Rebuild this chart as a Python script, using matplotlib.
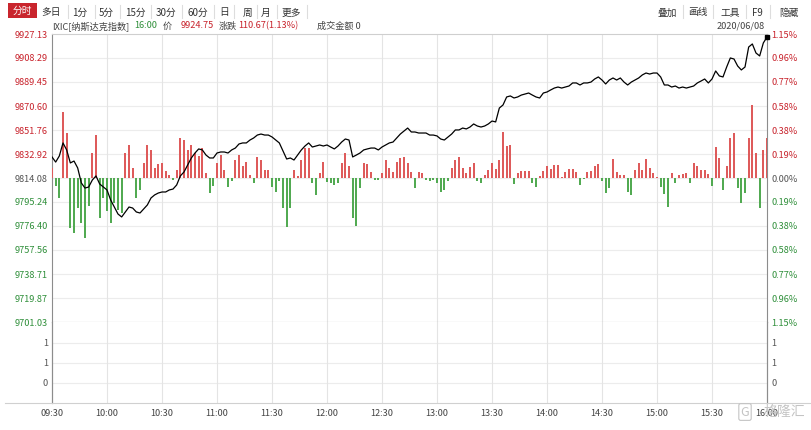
import matplotlib
matplotlib.use("Agg")
import matplotlib.pyplot as plt
import numpy as np
from matplotlib.lines import Line2D
from matplotlib.patches import Rectangle

plt.rcParams['font.family'] = ['Noto Sans CJK SC', 'DejaVu Sans']

# ---- data (one point every 2 min) ----
prev_close = 9814.08
last_price = 9924.75

price = [
    9830.6, 9826.6, 9831.4, 9841.6, 9836.1, 9825.9, 9827.4, 9822.0, 9810.2, 9806.2,
    9807.0, 9812.5, 9815.7, 9809.4, 9807.0, 9804.7, 9796.8, 9791.3, 9785.8, 9783.5,
    9787.4, 9791.3, 9790.5, 9787.4, 9786.6, 9789.8, 9792.9, 9798.4, 9800.8, 9802.3,
    9803.1, 9803.1, 9804.7, 9805.4, 9808.6, 9815.7, 9818.8, 9824.3, 9829.8, 9833.7,
    9836.9, 9836.1, 9832.1, 9829.8, 9829.8, 9833.7, 9834.5, 9834.5, 9833.7, 9836.1,
    9837.6, 9840.8, 9841.6, 9841.6, 9843.9, 9845.5, 9847.8, 9848.6, 9847.8, 9847.8,
    9846.3, 9843.9, 9841.6, 9835.3, 9829.0, 9829.8, 9828.2, 9832.1, 9836.1, 9839.2,
    9841.6, 9838.4, 9839.2, 9840.0, 9839.2, 9840.0, 9838.4, 9836.9, 9839.2, 9842.3,
    9844.7, 9843.9, 9830.6, 9832.1, 9833.7, 9836.1, 9836.9, 9837.6, 9837.6, 9836.1,
    9838.4, 9840.0, 9841.6, 9842.3, 9845.5, 9848.6, 9851.0, 9853.3, 9850.2, 9850.2,
    9849.4, 9849.4, 9849.4, 9847.8, 9847.8, 9847.1, 9844.7, 9843.9, 9846.3, 9848.6,
    9851.8, 9851.8, 9853.3, 9852.6, 9854.1, 9856.5, 9854.9, 9854.1, 9854.9, 9856.5,
    9858.8, 9858.1, 9869.0, 9871.4, 9877.7, 9878.5, 9876.9, 9877.7, 9879.2, 9880.0,
    9880.8, 9879.2, 9877.7, 9876.9, 9880.8, 9881.6, 9883.2, 9884.7, 9885.5, 9884.7,
    9885.5, 9886.3, 9888.7, 9888.7, 9887.1, 9888.7, 9888.7, 9889.4, 9891.8, 9893.4,
    9891.0, 9887.9, 9891.0, 9892.6, 9891.0, 9892.6, 9889.4, 9887.1, 9889.4, 9891.0,
    9892.6, 9895.0, 9896.5, 9895.7, 9896.5, 9896.5, 9893.4, 9887.1, 9887.1, 9885.5,
    9886.3, 9884.7, 9885.5, 9884.7, 9885.5, 9886.3, 9888.7, 9890.2, 9891.8, 9888.7,
    9891.8, 9898.1, 9894.2, 9893.4, 9901.2, 9908.3, 9907.5, 9902.0, 9898.9, 9901.2,
    9916.9, 9919.3, 9912.2, 9909.9, 9920.1, 9924.75,
]

# buy/sell strength bars (own scale, 0 = previous close line)
strength = [
    10, -8, -20, 66, 45, -50, -55, -30, -45, -60,
    -28, 25, 43, -40, -20, -33, -45, -25, -32, -35,
    25, 33, 10, -20, -12, 15, 33, 28, 10, 14,
    15, 7, 3, -2, 8, 40, 38, 28, 33, 25,
    22, 30, 5, -15, -8, 15, 23, 8, -9, -3,
    18, 23, 12, 16, 3, -5, 21, 18, 8, 8,
    -9, -14, -3, -30, -49, -30, 8, 2, 18, 30,
    30, -5, -17, 5, 16, -4, -5, -7, -5, 15,
    25, 12, -40, -48, -10, 15, 14, 6, -2, -2,
    5, 18, 10, 6, 16, 20, 21, 15, 6, -10,
    6, 5, -2, -3, -2, -5, -14, -12, -3, 10,
    18, 21, 10, 5, 11, 15, -3, -5, 3, 8,
    15, 9, 18, 46, 32, 33, -6, 5, 7, 7,
    7, -5, -9, 2, 7, 12, 9, 13, 13, 1,
    6, 9, 9, 6, -7, -1, 6, 7, 12, 14,
    -3, -15, -10, 19, 6, 3, 3, -14, -17, 8,
    15, 8, 19, 10, 5, 1, -9, -16, -29, 5,
    -5, 3, 4, 5, -5, 15, 12, 8, 8, 4,
    -8, 31, 20, -12, 12, 40, 45, -10, -25, -15,
    40, 73, 25, -30, 28, 40,
]

minutes = np.arange(0, 391, 2)
assert len(price) == len(minutes) and len(strength) == len(minutes)

price_ticks = [9701.03, 9719.87, 9738.71, 9757.56, 9776.40, 9795.24, 9814.08,
               9832.92, 9851.76, 9870.60, 9889.45, 9908.29, 9927.13]
pct_labels = ["1.15%", "0.96%", "0.77%", "0.58%", "0.38%", "0.19%", "0.00%",
              "0.19%", "0.38%", "0.58%", "0.77%", "0.96%", "1.15%"]
time_ticks = list(range(0, 391, 30))
time_labels = ["09:30", "10:00", "10:30", "11:00", "11:30", "12:00", "12:30",
               "13:00", "13:30", "14:00", "14:30", "15:00", "15:30", "16:00"]
vol_ticks = [0, 0.5, 1.0]
vol_labels = ["0", "1", "1"]

RED = '#c8232c'
GREEN = '#2f8f3a'
GRAY = '#555555'
BAR_RED = '#de5b5b'
BAR_GREEN = '#52aa52'
GRID = '#ececec'
FS = 6.6

W, H = 811, 430
fig = plt.figure(figsize=(W / 100, H / 100), dpi=100)


def fx(px):
    return px / W


def fy(py):
    return 1 - py / H


left, right = 52, 767
top, sep, bottom = 34, 322, 403
ax = fig.add_axes([fx(left), fy(sep), fx(right - left), (sep - top) / H])
axv = fig.add_axes([fx(left), fy(bottom), fx(right - left), (bottom - sep) / H])

# ---- main panel ----
ax.set_xlim(0, 390)
ax.set_ylim(price_ticks[0], price_ticks[-1])
for p in price_ticks[1:-1]:
    ax.axhline(p, color=GRID, lw=0.8, zorder=0)
for t in time_ticks[1:-1]:
    ax.axvline(t, color='#e4e4e4', lw=0.8, zorder=0)

axb = ax.twinx()
axb.set_ylim(-144, 144)
axb.set_xlim(0, 390)
cols = [BAR_RED if s > 0 else BAR_GREEN for s in strength]
axb.bar(minutes, strength, width=1.05, color=cols, linewidth=0, zorder=1)
axb.set_yticks([])
for s in axb.spines.values():
    s.set_visible(False)

axl = ax.twinx()
axl.set_ylim(price_ticks[0], price_ticks[-1])
axl.plot(minutes, price, color='black', lw=0.9, zorder=3)
axl.plot([minutes[-1]], [last_price], marker='s', ms=2.5, color='black', clip_on=False)
axl.set_yticks(price_ticks)
axl.set_yticklabels(pct_labels, fontsize=FS)
axl.tick_params(axis='y', length=0, pad=3)
for lab, p in zip(axl.get_yticklabels(), price_ticks):
    lab.set_color(RED if p > prev_close + 0.01 else (GREEN if p < prev_close - 0.01 else GRAY))
for s in axl.spines.values():
    s.set_visible(False)

ax.set_yticks(price_ticks)
ax.set_yticklabels(["%.2f" % p for p in price_ticks], fontsize=FS)
ax.tick_params(axis='y', length=0, pad=3)
for lab, p in zip(ax.get_yticklabels(), price_ticks):
    lab.set_color(RED if p > prev_close + 0.01 else (GREEN if p < prev_close - 0.01 else GRAY))
ax.set_xticks([])
ax.spines['left'].set_color('#8c8c8c')
ax.spines['right'].set_color('#8c8c8c')
ax.spines['top'].set_color('#cfcfcf')
ax.spines['bottom'].set_color('#9a9a9a')
for s in ax.spines.values():
    s.set_linewidth(0.8)

# ---- volume panel (empty) ----
axv.set_xlim(0, 390)
axv.set_ylim(-0.5, 1.525)
for v in vol_ticks:
    axv.axhline(v, color=GRID, lw=0.8, zorder=0)
for t in time_ticks[1:-1]:
    axv.axvline(t, color='#e4e4e4', lw=0.8, zorder=0)
axv.set_yticks(vol_ticks)
axv.set_yticklabels(vol_labels, fontsize=FS, color=GRAY)
axv.tick_params(axis='y', length=0, pad=3)
axv.set_xticks(time_ticks)
axv.set_xticklabels(time_labels, fontsize=FS, color='#444444')
axv.tick_params(axis='x', length=0, pad=4)
axvr = axv.twinx()
axvr.set_ylim(-0.5, 1.525)
axvr.set_yticks(vol_ticks)
axvr.set_yticklabels(vol_labels, fontsize=FS, color=GRAY)
axvr.tick_params(axis='y', length=0, pad=3)
for a in (axv, axvr):
    a.spines['top'].set_visible(False)
    a.spines['bottom'].set_visible(False)
    a.spines['left'].set_color('#8c8c8c')
    a.spines['right'].set_color('#8c8c8c')
    a.spines['left'].set_linewidth(0.8)
    a.spines['right'].set_linewidth(0.8)
fig.add_artist(Line2D([fx(5), 1], [fy(bottom), fy(bottom)], color='#d0d0d0', lw=0.8))

# ---- header toolbar ----
fig.add_artist(Rectangle((fx(8), fy(18)), fx(29), 15 / H, color='#c9252d', lw=0))
fig.text(fx(22.5), fy(10.5), "分时", color='white', fontsize=FS + 0.4, ha='center', va='center')
tabs = [("多日", 51), ("1分", 80), ("5分", 106), ("15分", 135), ("30分", 166), ("60分", 198),
        ("日", 224), ("周", 248), ("月", 266), ("更多", 291)]
for name, cx in tabs:
    fig.text(fx(cx), fy(12.5), name, color='#333333', fontsize=FS + 0.4, ha='center', va='center')
for sx in [68, 95, 120, 151, 182, 214, 234, 257, 277, 307]:
    fig.add_artist(Line2D([fx(sx), fx(sx)], [fy(5), fy(18)], color='#dddddd', lw=0.8))
tools = [("叠加", 667), ("画线", 698), ("工具", 730), ("F9", 757), ("隐藏", 789)]
for name, cx in tools:
    fig.text(fx(cx), fy(12.5), name, color='#333333', fontsize=FS + 0.4, ha='center', va='center')
for sx in [683, 713, 746, 770]:
    fig.add_artist(Line2D([fx(sx), fx(sx)], [fy(5), fy(18)], color='#dddddd', lw=0.8))

# ---- info line ----
info = [("IXIC[纳斯达克指数]", 52, '#444444'), ("16:00", 134, GREEN), ("价", 163, '#444444'),
        ("9924.75", 181, RED), ("涨跌", 219, '#444444'), ("110.67(1.13%)", 238, RED),
        ("成交金额 0", 317, '#444444')]
for txt, x0, c in info:
    fig.text(fx(x0), fy(26), txt, color=c, fontsize=FS, ha='left', va='center')
fig.text(fx(765), fy(26), "2020/06/08", color='#444444', fontsize=FS, ha='right', va='center')

# watermark
fig.text(fx(745), fy(412), "G", color='#c4c4c4', fontsize=9, ha='center', va='center',
         bbox=dict(boxstyle='round,pad=0.15', fc='none', ec='#c4c4c4', lw=0.8))
fig.text(fx(784), fy(412), "格隆汇", color='#c4c4c4', fontsize=10, ha='center', va='center')

fig.savefig("out.png", dpi=100)
